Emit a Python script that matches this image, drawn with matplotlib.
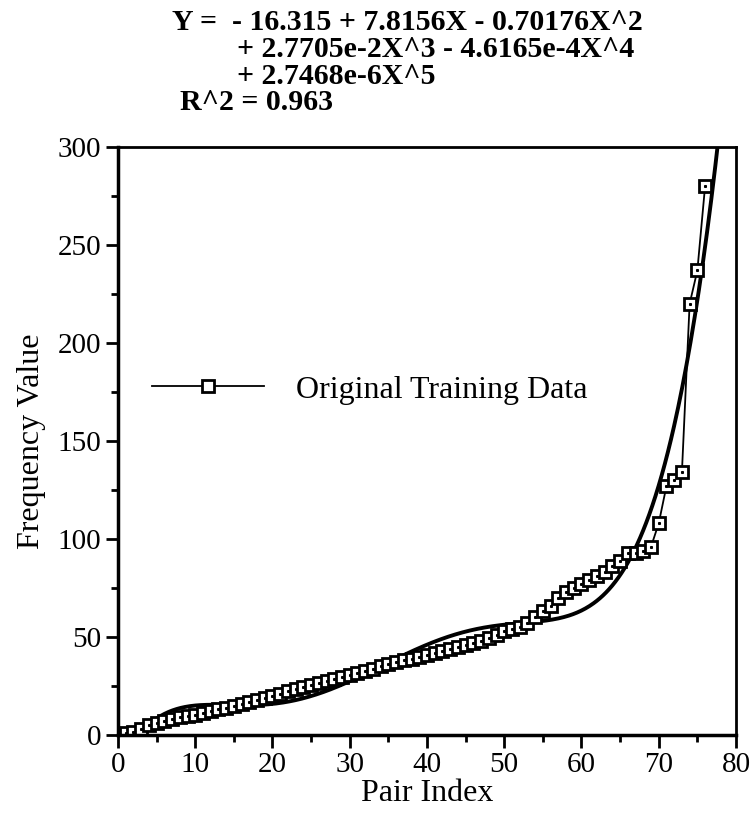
import numpy as np
import matplotlib
matplotlib.use('Agg')
import matplotlib.pyplot as plt
from matplotlib.ticker import MultipleLocator

# training data
pair_index = list(range(77))
freq_value = [0.5, 1, 1.5, 3, 5, 6, 7, 8, 9, 9.5,
              10, 11, 12, 13, 14, 15, 16, 17, 18, 19,
              20, 21, 22.5, 23.5, 24.5, 25.5, 26.5, 27.5, 28.5, 29.5,
              30.5, 31.5, 32.5, 33.5, 35, 36, 37, 38, 39, 40,
              41, 42, 43, 44, 45, 46, 47, 48, 49.5, 51,
              53, 54, 55, 57, 60, 63, 66, 70, 73, 75,
              77, 79, 81, 83, 86, 89, 93, 93, 94, 96,
              108, 127, 130, 134, 220, 237, 280]

# fitted polynomial, lowest order first, as printed on the chart
fit_coeffs = [-16.315, 7.8156, -0.70176, 2.7705e-2, -4.6165e-4, 2.7468e-6]
eq_lines = ["Y =  - 16.315 + 7.8156X - 0.70176X^2",
            "+ 2.7705e-2X^3 - 4.6165e-4X^4",
            "+ 2.7468e-6X^5",
            "R^2 = 0.963"]

plt.rcParams['font.family'] = ['Liberation Serif', 'DejaVu Serif']

fig = plt.figure(figsize=(7.53, 8.17), dpi=100)
ax = fig.add_axes([0.1567, 0.1004, 0.8207, 0.7197])

xs = np.linspace(0, 80, 600)
ax.plot(xs, np.polynomial.polynomial.polyval(xs, fit_coeffs), color='black', lw=2.8)
ax.plot(pair_index, freq_value, color='black', lw=1.3, marker='s', ms=8.3,
        mfc='white', mec='black', mew=2, label='Original Training Data')
ax.plot(pair_index, freq_value, ls='none', marker='s', ms=1.2, color='black')

ax.set_xlim(0, 80)
ax.set_ylim(0, 300)
ax.xaxis.set_major_locator(MultipleLocator(10))
ax.xaxis.set_minor_locator(MultipleLocator(5))
ax.yaxis.set_major_locator(MultipleLocator(50))
ax.yaxis.set_minor_locator(MultipleLocator(25))
ax.tick_params(which='major', direction='out', length=9, width=2, labelsize=21, pad=3)
ax.tick_params(which='minor', direction='out', length=5, width=2)
ax.tick_params(top=False, right=False)
for side in ['left', 'bottom']:
    ax.spines[side].set_linewidth(2.5)
for side in ['top', 'right']:
    ax.spines[side].set_linewidth(2)

ax.set_xlabel('Pair Index', fontsize=23, labelpad=1)
ax.set_ylabel('Frequency Value', fontsize=23, labelpad=8)

ax.legend(loc='center left', bbox_to_anchor=(0.055, 0.587), frameon=False,
          fontsize=23, handlelength=3.5, handletextpad=1.0,
          borderpad=0, borderaxespad=0)

# equation block above the axes, one line at a time
eq_x = [0.228, 0.315, 0.315, 0.239]
eq_y = [0.963, 0.930, 0.897, 0.865]
for txt, x, y in zip(eq_lines, eq_x, eq_y):
    fig.text(x, y, txt, fontsize=21.5, fontweight='bold', va='baseline', ha='left')

fig.savefig('out.png', dpi=100)
